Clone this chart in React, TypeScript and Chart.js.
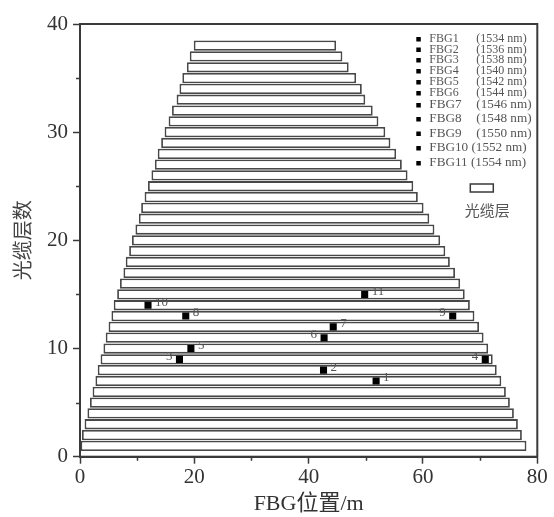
import React, { useEffect, useRef } from 'react';
import { Chart, registerables } from 'chart.js';

Chart.register(...registerables);

// Cable layers (y) and the start / end of each layer along the fibre (x, m)
const layers = [
  1, 2, 3, 4, 5, 6, 7, 8, 9, 10, 11, 12, 13, 14, 15, 16, 17, 18, 19,
  20, 21, 22, 23, 24, 25, 26, 27, 28, 29, 30, 31, 32, 33, 34, 35, 36, 37, 38,
];
const layerStart = [
  0, 0.35, 0.8, 1.3, 1.75, 2.2, 2.7, 3.1, 3.6, 4.1, 4.5, 5.0, 5.5, 5.9, 6.5, 7.0, 7.6, 8.0, 8.6,
  9.1, 9.7, 10.3, 10.7, 11.3, 11.9, 12.5, 13.1, 13.6, 14.2, 14.8, 15.5, 16.1, 16.9, 17.4, 17.9, 18.7, 19.2, 19.9,
];
const layerEnd = [
  78.1, 77.3, 76.6, 75.9, 75.2, 74.5, 73.7, 72.9, 72.2, 71.4, 70.6, 69.8, 69.0, 68.2, 67.3, 66.5, 65.6, 64.7, 63.9,
  63.0, 62.0, 61.1, 60.1, 59.1, 58.3, 57.3, 56.3, 55.3, 54.3, 53.4, 52.2, 51.2, 49.9, 49.3, 48.3, 47.0, 45.9, 44.8,
];

// FBG sensors
const fbgNames = ['FBG1', 'FBG2', 'FBG3', 'FBG4', 'FBG5', 'FBG6', 'FBG7', 'FBG8', 'FBG9', 'FBG10', 'FBG11'];
const fbgWavelength = [1534, 1536, 1538, 1540, 1542, 1544, 1546, 1548, 1550, 1552, 1554];
const fbgX = [51.8, 42.6, 17.4, 70.9, 19.4, 42.7, 44.3, 18.5, 65.2, 11.9, 49.8];
const fbgLayer = [7, 8, 9, 9, 10, 11, 12, 13, 13, 14, 15];

// axis ticks
const xMajorStep = 20;
const yMajorStep = 10;

const cableLabel = '光缆层';
const xTitle = 'FBG位置/m';
const yTitle = '光缆层数';

export default function App() {
  const ref = useRef<HTMLCanvasElement>(null);

  useEffect(() => {
    const canvas = ref.current!;
    const AXIS = '#3a3a3a';
    const serif = '"Liberation Serif", "Times New Roman", serif';
    const cjk = '"Liberation Serif", "Noto Sans CJK SC", serif';
    const labelRight = [true, true, false, false, true, false, true, true, false, true, true];

    const overlay = {
      id: 'overlay',
      afterDraw(chart: any) {
        const { ctx, chartArea: a } = chart;
        const xs = chart.scales.x;
        const ys = chart.scales.y;
        ctx.save();
        // frame
        ctx.strokeStyle = AXIS;
        ctx.lineWidth = 2;
        ctx.strokeRect(a.left, a.top, a.right - a.left, a.bottom - a.top);
        // minor ticks
        ctx.lineWidth = 1.5;
        ctx.beginPath();
        xs.ticks.forEach((t: any) => {
          if (t.value % xMajorStep !== 0) {
            const p = Math.round(xs.getPixelForValue(t.value)) + 0.5;
            ctx.moveTo(p, a.bottom);
            ctx.lineTo(p, a.bottom + 4);
          }
        });
        ys.ticks.forEach((t: any) => {
          if (t.value % yMajorStep !== 0) {
            const p = Math.round(ys.getPixelForValue(t.value)) + 0.5;
            ctx.moveTo(a.left, p);
            ctx.lineTo(a.left - 4, p);
          }
        });
        ctx.stroke();

        // marker labels
        ctx.fillStyle = '#555';
        ctx.font = `13px ${serif}`;
        ctx.textBaseline = 'middle';
        fbgX.forEach((v, i) => {
          const px = xs.getPixelForValue(v);
          const py = ys.getPixelForValue(fbgLayer[i]) - 3;
          if (labelRight[i]) {
            ctx.textAlign = 'left';
            ctx.fillText(String(i + 1), px + 7, py);
          } else {
            ctx.textAlign = 'right';
            ctx.fillText(String(i + 1), px - 7, py);
          }
        });

        // legend
        const rowY = [39, 49.5, 60, 71, 82, 93, 105, 119, 133.5, 148, 163];
        const lx = a.right - 119;
        ctx.textAlign = 'left';
        fbgNames.forEach((n, i) => {
          const yy = rowY[i];
          ctx.fillStyle = '#000';
          ctx.fillRect(lx - 2, yy - 2, 4.5, 4.5);
          ctx.fillStyle = '#555';
          ctx.font = `${i < 6 ? 12 : 13.2}px ${serif}`;
          if (n.length <= 4) {
            ctx.fillText(n, lx + 11, yy);
            ctx.fillText(`(${fbgWavelength[i]} nm)`, lx + 58, yy);
          } else {
            ctx.fillText(`${n} (${fbgWavelength[i]} nm)`, lx + 11, yy);
          }
        });
        ctx.fillStyle = '#fff';
        ctx.strokeStyle = AXIS;
        ctx.lineWidth = 1.5;
        ctx.fillRect(a.right - 67, 184, 23, 8);
        ctx.strokeRect(a.right - 67, 184, 23, 8);
        ctx.fillStyle = '#555';
        ctx.font = `15px "Noto Sans CJK SC", sans-serif`;
        ctx.textAlign = 'center';
        ctx.fillText(cableLabel, a.right - 50, 210);
        ctx.restore();
      },
    };

    const chart = new Chart(canvas, {
      type: 'bar',
      data: {
        datasets: [
          {
            type: 'scatter',
            label: 'FBG',
            data: fbgX.map((v, i) => ({ x: v, y: fbgLayer[i] })),
            pointStyle: 'rect',
            pointRadius: 5,
            pointBackgroundColor: '#000',
            pointBorderWidth: 0,
            order: 0,
          } as any,
          {
            type: 'bar',
            label: cableLabel,
            indexAxis: 'y',
            data: layers.map((l, i) => ({ x: [layerStart[i], layerEnd[i]], y: l })),
            backgroundColor: '#fff',
            borderColor: '#484848',
            borderWidth: 1.8,
            borderSkipped: false,
            barPercentage: 1,
            categoryPercentage: 0.95,
            order: 1,
          } as any,
        ],
      },
      options: {
        responsive: false,
        animation: false,
        devicePixelRatio: 1,
        layout: { padding: { top: 24, right: 16.7, left: 0, bottom: 0 } },
        plugins: { legend: { display: false }, tooltip: { enabled: false } },
        scales: {
          x: {
            type: 'linear',
            min: 0,
            max: 80,
            offset: false,
            ticks: {
              stepSize: 10,
              autoSkip: false,
              maxRotation: 0,
              padding: 1,
              color: '#333',
              font: { family: serif, size: 21 },
              callback: (v: any) => (v % xMajorStep === 0 ? String(v) : ''),
            },
            grid: {
              offset: false,
              drawOnChartArea: false,
              drawTicks: true,
              tickLength: 7,
              tickWidth: 1.5,
              tickColor: (c: any) => (c.tick && c.tick.value % xMajorStep === 0 ? AXIS : 'rgba(0,0,0,0)'),
            },
            border: { display: true, color: AXIS, width: 2 },
            title: { display: true, text: xTitle, color: '#333', font: { family: cjk, size: 22 }, padding: { top: 0, bottom: 0 } },
            afterFit: (s: any) => {
              s.height = 60.3;
              s.paddingLeft = 0;
              s.paddingRight = 0;
            },
          },
          y: {
            type: 'linear',
            min: 0,
            max: 40,
            offset: false,
            ticks: {
              stepSize: 5,
              autoSkip: false,
              padding: 5,
              color: '#333',
              font: { family: serif, size: 21 },
              callback: (v: any) => (v % yMajorStep === 0 ? String(v) : ''),
            },
            grid: {
              offset: false,
              drawOnChartArea: false,
              drawTicks: true,
              tickLength: 7,
              tickWidth: 1.5,
              tickColor: (c: any) => (c.tick && c.tick.value % yMajorStep === 0 ? AXIS : 'rgba(0,0,0,0)'),
            },
            border: { display: true, color: AXIS, width: 2 },
            title: { display: true, text: yTitle, color: '#444', font: { family: '"Noto Sans CJK SC", sans-serif', size: 20 }, padding: { top: 10, bottom: 0 } },
            afterFit: (s: any) => {
              s.width = 80;
              s.paddingTop = 0;
              s.paddingBottom = 0;
            },
          },
        },
      } as any,
      plugins: [overlay],
    });
    return () => chart.destroy();
  }, []);

  return (
    <div style={{ position: 'fixed', left: 0, top: 0, width: 554, height: 517, background: '#fff' }}>
      <canvas ref={ref} width={554} height={517} style={{ width: 554, height: 517, display: 'block' }} />
    </div>
  );
}
